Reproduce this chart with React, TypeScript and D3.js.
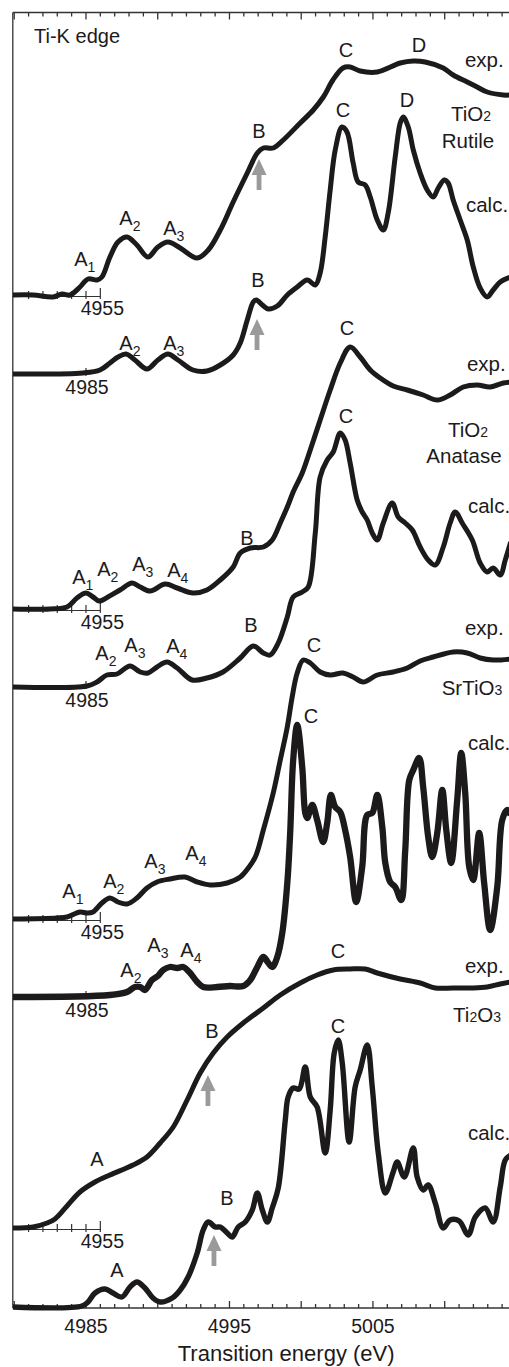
import React, { useRef, useEffect } from 'react';
import * as d3 from 'd3';

const W = 509;
const H = 1367;

// spectra: [energy (eV), intensity above own baseline (arb. u.)]
const rutileExp: [number, number][] = [
  [4979.91, 0], [4981.31, 0], [4982.7, -0.02], [4983.33, 0.01], [4983.89, 0], [4984.58, 0.08],
  [4985.14, 0.16], [4985.77, 0.15], [4986.11, 0.18], [4986.67, 0.38], [4987.23, 0.53], [4987.86, 0.58],
  [4988.55, 0.5], [4989.32, 0.38], [4990.01, 0.48], [4990.71, 0.53], [4991.57, 0.47], [4992.75, 0.37],
  [4993.52, 0.45], [4994.36, 0.65], [4995.26, 0.93], [4996.24, 1.22], [4996.94, 1.42], [4997.36, 1.47],
  [4998.05, 1.47], [4998.75, 1.55], [4999.93, 1.72], [5000.84, 1.85], [5001.54, 1.98], [5002.21, 2.15],
  [5002.91, 2.27], [5003.41, 2.28], [5004.11, 2.24], [5005.3, 2.23], [5006.9, 2.32], [5007.81, 2.34],
  [5008.64, 2.33], [5009.9, 2.27], [5010.59, 2.2], [5011.57, 2.13], [5012.26, 2.08], [5012.96, 2.03],
  [5014.08, 2.0], [5014.6, 2.0],
];
const rutileCalc: [number, number][] = [
  [4979.91, 0], [4984.79, 0.01], [4985.98, 0.04], [4986.67, 0.11], [4987.23, 0.17], [4987.79, 0.2],
  [4988.41, 0.14], [4989.25, 0.05], [4990.01, 0.14], [4990.71, 0.2], [4991.41, 0.14], [4992.46, 0.04],
  [4993.43, 0.03], [4994.36, 0.09], [4995.26, 0.19], [4995.75, 0.31], [4996.24, 0.54], [4996.66, 0.72],
  [4996.87, 0.74], [4997.29, 0.69], [4997.71, 0.65], [4998.33, 0.68], [4999.03, 0.79], [4999.72, 0.87],
  [5000.42, 0.94], [5000.98, 0.89], [5001.32, 1.01], [5001.67, 1.37], [5002.02, 1.84], [5002.37, 2.24],
  [5002.84, 2.47], [5003.19, 2.42], [5003.62, 2.11], [5003.97, 1.92], [5004.46, 1.89], [5004.81, 1.77],
  [5005.3, 1.54], [5005.72, 1.44], [5006.06, 1.61], [5006.55, 2.17], [5006.9, 2.51], [5007.11, 2.57],
  [5007.46, 2.47], [5007.81, 2.24], [5008.29, 2.01], [5008.78, 1.84], [5009.2, 1.77], [5009.55, 1.86],
  [5009.97, 1.94], [5010.24, 1.91], [5010.59, 1.74], [5011.08, 1.54], [5011.57, 1.34], [5011.99, 1.07],
  [5012.47, 0.86], [5012.96, 0.77], [5013.38, 0.84], [5013.87, 0.92], [5014.6, 0.97],
];
const anataseExp: [number, number][] = [
  [4979.91, 0], [4982.49, 0], [4983.68, 0.02], [4984.37, 0.11], [4985.0, 0.16], [4985.49, 0.12],
  [4985.91, 0.08], [4986.53, 0.12], [4987.37, 0.19], [4988.21, 0.26], [4988.78, 0.22], [4989.48, 0.18],
  [4990.52, 0.25], [4991.36, 0.21], [4992.47, 0.16], [4993.43, 0.19], [4994.36, 0.29], [4995.26, 0.42],
  [4995.75, 0.56], [4996.45, 0.61], [4997.36, 0.62], [4997.98, 0.69], [4998.54, 0.86], [4999.03, 1.02],
  [4999.44, 1.17], [5000.07, 1.36], [5000.63, 1.59], [5001.32, 1.89], [5002.02, 2.19], [5002.72, 2.46],
  [5003.41, 2.62], [5004.11, 2.52], [5004.81, 2.39], [5005.5, 2.31], [5006.41, 2.23], [5007.39, 2.19],
  [5008.5, 2.14], [5009.48, 2.09], [5010.38, 2.14], [5011.29, 2.22], [5012.26, 2.24], [5013.17, 2.22],
  [5014.08, 2.26], [5014.6, 2.27],
];
const anataseCalc: [number, number][] = [
  [4979.91, 0], [4985.07, 0.01], [4985.77, 0.05], [4986.46, 0.12], [4987.16, 0.13], [4988.07, 0.21],
  [4988.78, 0.15], [4989.32, 0.14], [4989.95, 0.2], [4990.65, 0.25], [4991.36, 0.19], [4992.4, 0.07],
  [4993.43, 0.09], [4994.55, 0.15], [4995.75, 0.29], [4996.66, 0.41], [4997.36, 0.34], [4997.84, 0.32],
  [4998.4, 0.44], [4999.03, 0.7], [4999.44, 0.9], [5000.07, 0.95], [5000.49, 1.0], [5000.98, 1.54],
  [5001.32, 2.1], [5001.81, 2.27], [5002.23, 2.35], [5002.72, 2.54], [5003.06, 2.47], [5003.41, 2.24],
  [5003.9, 1.87], [5004.25, 1.75], [5004.6, 1.67], [5004.95, 1.54], [5005.3, 1.47], [5005.72, 1.64],
  [5006.34, 1.84], [5006.76, 1.7], [5007.25, 1.64], [5007.74, 1.57], [5008.29, 1.4], [5008.85, 1.27],
  [5009.34, 1.22], [5009.9, 1.4], [5010.38, 1.64], [5010.73, 1.75], [5011.22, 1.64], [5011.92, 1.47],
  [5012.47, 1.24], [5012.96, 1.15], [5013.38, 1.19], [5013.87, 1.12], [5014.22, 1.27], [5014.6, 1.45],
];
const srtio3Exp: [number, number][] = [
  [4979.91, 0], [4982.98, 0.01], [4983.68, 0.02], [4984.58, 0.07], [4985.07, 0.06], [4985.49, 0.07],
  [4986.11, 0.16], [4986.67, 0.21], [4987.23, 0.17], [4987.86, 0.15], [4988.55, 0.21], [4989.25, 0.31],
  [4989.95, 0.37], [4990.85, 0.4], [4991.9, 0.42], [4992.75, 0.37], [4993.66, 0.34], [4994.84, 0.36],
  [4995.75, 0.42], [4996.31, 0.51], [4996.8, 0.62], [4997.36, 0.89], [4998.05, 1.26], [4998.54, 1.59],
  [4999.03, 1.92], [4999.37, 2.22], [4999.72, 2.46], [5000.14, 2.59], [5000.63, 2.56], [5001.32, 2.47],
  [5002.02, 2.44], [5002.91, 2.46], [5003.62, 2.42], [5004.32, 2.37], [5005.3, 2.44], [5006.41, 2.47],
  [5007.39, 2.51], [5008.29, 2.58], [5009.2, 2.62], [5010.59, 2.67], [5011.57, 2.66], [5012.47, 2.61],
  [5013.38, 2.59], [5014.6, 2.6],
];
const srtio3Calc: [number, number][] = [
  [4979.91, 0], [4986.67, 0.02], [4987.86, 0.05], [4988.41, 0.1], [4988.78, 0.1], [4989.11, 0.07],
  [4989.6, 0.17], [4990.01, 0.21], [4990.38, 0.27], [4990.85, 0.3], [4991.36, 0.29], [4991.78, 0.3],
  [4992.26, 0.24], [4992.75, 0.15], [4993.17, 0.1], [4994.15, 0.1], [4995.03, 0.11], [4995.96, 0.11],
  [4996.45, 0.17], [4996.94, 0.3], [4997.36, 0.4], [4997.71, 0.34], [4997.98, 0.3], [4998.33, 0.4],
  [4998.68, 0.64], [4999.03, 1.14], [4999.23, 1.64], [4999.44, 2.37], [4999.72, 2.72], [5000.07, 2.3],
  [5000.28, 1.84], [5000.42, 1.79], [5000.77, 1.92], [5001.11, 1.77], [5001.53, 1.55], [5001.81, 1.74],
  [5002.07, 2.02], [5002.37, 1.9], [5002.72, 1.85], [5003.06, 1.67], [5003.41, 1.4], [5003.83, 0.95],
  [5004.25, 1.3], [5004.6, 1.82], [5004.95, 1.84], [5005.3, 2.02], [5005.65, 1.7], [5005.86, 1.34],
  [5006.2, 1.15], [5006.55, 1.1], [5006.97, 0.97], [5007.25, 1.47], [5007.53, 2.17], [5007.81, 2.27],
  [5008.22, 2.39], [5008.5, 2.1], [5008.85, 1.6], [5009.13, 1.4], [5009.48, 1.64], [5009.83, 2.07],
  [5010.11, 1.67], [5010.45, 1.34], [5010.87, 1.97], [5011.15, 2.44], [5011.43, 2.04], [5011.71, 1.3],
  [5011.99, 1.17], [5012.4, 1.64], [5012.75, 1.14], [5013.17, 0.67], [5013.66, 1.1], [5014.01, 1.77],
  [5014.36, 1.87], [5014.6, 1.82],
];
const ti2o3Exp: [number, number][] = [
  [4979.91, 0], [4981.31, 0.01], [4982.29, 0.05], [4982.84, 0.09], [4983.68, 0.22], [4984.58, 0.36],
  [4985.63, 0.46], [4986.67, 0.53], [4988.28, 0.63], [4989.25, 0.71], [4990.17, 0.85], [4991.08, 1.01],
  [4992.05, 1.28], [4992.96, 1.55], [4993.87, 1.75], [4994.84, 1.91], [4995.96, 2.05], [4997.36, 2.2],
  [4998.54, 2.33], [4999.93, 2.45], [5001.11, 2.53], [5002.23, 2.58], [5003.41, 2.59], [5004.46, 2.59],
  [5005.3, 2.55], [5006.9, 2.49], [5008.29, 2.45], [5009.34, 2.4], [5010.59, 2.4], [5011.92, 2.4],
  [5012.96, 2.41], [5013.87, 2.44], [5014.6, 2.46],
];
const ti2o3Calc: [number, number][] = [
  [4979.91, 0], [4984.72, 0.01], [4985.14, 0.05], [4985.63, 0.14], [4986.32, 0.18], [4986.88, 0.14],
  [4987.51, 0.1], [4988.07, 0.2], [4988.55, 0.25], [4989.11, 0.19], [4989.67, 0.09], [4990.17, 0.05],
  [4991.01, 0.09], [4991.57, 0.17], [4992.12, 0.3], [4992.75, 0.54], [4993.17, 0.77], [4993.52, 0.85],
  [4994.01, 0.8], [4994.36, 0.8], [4994.84, 0.74], [4995.19, 0.7], [4995.61, 0.8], [4996.1, 0.85],
  [4996.59, 0.97], [4996.94, 1.14], [4997.29, 0.97], [4997.64, 0.85], [4997.98, 0.99], [4998.4, 1.19],
  [4998.89, 1.87], [4999.09, 2.1], [4999.44, 2.19], [4999.86, 2.18], [5000.28, 2.4], [5000.63, 2.1],
  [5001.11, 2.0], [5001.67, 1.54], [5002.02, 1.97], [5002.3, 2.54], [5002.58, 2.67], [5002.86, 2.44],
  [5003.34, 1.65], [5003.76, 2.2], [5004.11, 2.37], [5004.6, 2.62], [5004.95, 2.2], [5005.37, 1.54],
  [5005.86, 1.14], [5006.41, 1.35], [5006.69, 1.45], [5007.18, 1.3], [5007.81, 1.59], [5008.08, 1.3],
  [5008.5, 1.17], [5008.85, 1.22], [5009.34, 1.04], [5009.9, 0.79], [5010.38, 0.87], [5011.01, 0.86],
  [5011.64, 0.72], [5012.13, 0.9], [5012.82, 0.99], [5013.38, 0.85], [5013.87, 1.2], [5014.22, 1.47],
  [5014.6, 1.52],
];

// vertical offsets of each spectrum (same order as spectra below)
const spectra = [rutileExp, rutileCalc, anataseExp, anataseCalc, srtio3Exp, srtio3Calc, ti2o3Exp, ti2o3Calc];
const stackOffsets = [10.13, 9.34, 6.99, 6.21, 3.89, 3.11, 0.8, 0.01];

const axisTicks = d3.range(4980, 5018);
const axisLabels = [4985, 4995, 5005];
const expAxisTicks = [4950, 4951, 4952, 4953, 4954, 4955];
const expShift = 31; // exp. energy scale drawn shifted

// peak letters: [letter, subscript, energy, level]
const peakLabels: [string, string, number, number][] = [
  ['A', '1', 4984.65, 10.42], ['A', '2', 4987.79, 10.83], ['A', '3', 4990.85, 10.73],
  ['B', '', 4997.06, 11.7], ['C', '', 5003.12, 12.51], ['D', '', 5008.21, 12.56],
  ['A', '2', 4987.79, 9.58], ['A', '3', 4990.85, 9.58], ['B', '', 4996.99, 10.21],
  ['C', '', 5002.91, 11.91], ['D', '', 5007.37, 12.01],
  ['A', '1', 4984.51, 7.24], ['A', '2', 4986.25, 7.32], ['A', '3', 4988.69, 7.37], ['A', '4', 4991.13, 7.31],
  ['B', '', 4996.22, 7.63], ['C', '', 5003.19, 9.73],
  ['A', '2', 4986.12, 6.48], ['A', '3', 4988.14, 6.56], ['A', '4', 4991.06, 6.55],
  ['B', '', 4996.5, 6.76], ['C', '', 5003.12, 8.85],
  ['A', '1', 4983.82, 4.1], ['A', '2', 4986.67, 4.2], ['A', '3', 4989.53, 4.4], ['A', '4', 4992.39, 4.48],
  ['C', '', 5000.89, 6.56],
  ['A', '2', 4987.86, 3.31], ['A', '3', 4989.74, 3.56], ['A', '4', 4992.04, 3.51], ['C', '', 5000.68, 5.85],
  ['A', '', 4985.77, 1.42], ['B', '', 4993.78, 2.7], ['C', '', 5002.56, 3.5],
  ['A', '', 4987.16, 0.31], ['B', '', 4994.83, 1.03], ['C', '', 5002.56, 2.75],
];
const kindLabels: [string, number, number][] = [
  ['exp.', 5011.41, 12.41], ['calc.', 5011.48, 10.96],
  ['exp.', 5011.55, 9.37], ['calc.', 5011.62, 7.95],
  ['exp.', 5011.41, 6.73], ['calc.', 5011.62, 5.58],
  ['exp.', 5011.41, 3.35], ['calc.', 5011.62, 1.68],
];
// compound names: [text, index digit, energy, level]
const compoundLabels: [string, string, number, number][] = [
  ['TiO', '2', 5011.83, 11.87], ['Rutile', '', 5011.62, 11.6],
  ['TiO', '2', 5011.62, 8.71], ['Anatase', '', 5011.34, 8.45],
  ['SrTiO', '3', 5011.9, 6.13], ['Ti', '2O3', 5012.25, 2.86],
];
// grey arrows (tip): [energy, level]
const arrows: [number, number][] = [
  [4997.06, 11.49], [4996.92, 9.89], [4993.5, 2.33], [4993.92, 0.73],
];

const FONT = '"Liberation Sans", Arial, Helvetica, sans-serif';

function XasChart() {
  const ref = useRef<SVGSVGElement>(null);

  useEffect(() => {
    const svg = d3.select(ref.current);
    svg.selectAll('*').remove();

    const x = d3.scaleLinear().domain([4979.9, 5018]).range([12.8, 559.5]);
    const y = d3.scaleLinear().domain([0, 12.955]).range([1308, 12.5]);
    const x0 = x.range()[0];
    const yTop = y.range()[1];
    const yBot = y.range()[0];
    const ink = '#1c1a1b';

    const g = svg.append('g').attr('font-family', FONT).attr('fill', ink);

    // frame
    const frame = g.append('g').attr('stroke', '#333').attr('stroke-width', 1.3);
    frame.append('line').attr('x1', x0).attr('x2', x0).attr('y1', yTop).attr('y2', yBot);
    frame.append('line').attr('x1', x0).attr('x2', W + 5).attr('y1', yTop).attr('y2', yTop);
    frame.append('line').attr('x1', x0).attr('x2', W + 5).attr('y1', yBot).attr('y2', yBot);
    axisTicks.forEach((e) => {
      const len = e % 5 === 0 ? 7 : 4;
      frame.append('line').attr('x1', x(e)).attr('x2', x(e)).attr('y1', yBot).attr('y2', yBot - len);
      frame.append('line').attr('x1', x(e)).attr('x2', x(e)).attr('y1', yTop).attr('y2', yTop + len);
    });
    axisLabels.forEach((e) => {
      g.append('text').attr('x', x(e)).attr('y', yBot + 25).attr('text-anchor', 'middle')
        .attr('font-size', 19.5).text(e);
    });
    g.append('text').attr('x', (x.range()[0] + x.range()[1]) / 2).attr('y', 1361)
      .attr('text-anchor', 'middle').attr('font-size', 22).text('Transition energy (eV)');

    // small energy scales under each pair
    spectra.forEach((_, i) => {
      const base = y(stackOffsets[i]);
      if (i % 2 === 0) {
        const ax = g.append('g').attr('stroke', '#333').attr('stroke-width', 1.2);
        ax.append('line').attr('x1', x0).attr('x2', x(4955 + expShift)).attr('y1', base + 1.5).attr('y2', base + 1.5);
        expAxisTicks.forEach((t) => {
          const up = t === 4955 ? 7 : 4;
          ax.append('line').attr('x1', x(t + expShift)).attr('x2', x(t + expShift))
            .attr('y1', base + 4).attr('y2', base - up);
        });
        g.append('text').attr('x', x(4955 + expShift) + 2).attr('y', base + 20)
          .attr('text-anchor', 'middle').attr('font-size', 19.5).text('4955');
      } else if (i < spectra.length - 1) {
        g.append('line').attr('stroke', '#333').attr('stroke-width', 1.2)
          .attr('x1', x(4985)).attr('x2', x(4985)).attr('y1', base + 2).attr('y2', base - 6);
        g.append('text').attr('x', x(4985) + 1).attr('y', base + 20)
          .attr('text-anchor', 'middle').attr('font-size', 19.5).text('4985');
      }
    });

    // spectra
    const line = d3.line<[number, number]>()
      .x((d) => x(d[0]))
      .y((d) => y(d[1]))
      .curve(d3.curveCatmullRom.alpha(0.5));
    const widths = [5, 5, 5, 5, 5, 6.3, 5, 5.4];
    spectra.forEach((data, i) => {
      const off = stackOffsets[i];
      g.append('path')
        .datum(data.map((d) => [d[0], d[1] + off] as [number, number]))
        .attr('fill', 'none')
        .attr('stroke', ink)
        .attr('stroke-width', widths[i])
        .attr('stroke-linejoin', 'round')
        .attr('d', line);
    });

    // arrows
    arrows.forEach(([e, v]) => {
      const tx = x(e);
      const ty = y(v);
      const p = d3.path();
      p.moveTo(tx, ty);
      p.lineTo(tx + 7.5, ty + 16);
      p.lineTo(tx + 2.4, ty + 16);
      p.lineTo(tx + 2.4, ty + 31);
      p.lineTo(tx - 2.4, ty + 31);
      p.lineTo(tx - 2.4, ty + 16);
      p.lineTo(tx - 7.5, ty + 16);
      p.closePath();
      g.append('path').attr('d', p.toString()).attr('fill', '#9a9a9a');
    });

    // peak labels
    peakLabels.forEach(([letter, sub, e, v]) => {
      if (sub) {
        const t = g.append('text').attr('x', x(e) - 6.7).attr('y', y(v)).attr('font-size', 20);
        t.append('tspan').text(letter);
        t.append('tspan').attr('dy', 6).attr('font-size', 14).text(sub);
      } else {
        g.append('text').attr('x', x(e)).attr('y', y(v)).attr('text-anchor', 'middle')
          .attr('font-size', 20).text(letter);
      }
    });

    kindLabels.forEach(([txt, e, v]) => {
      g.append('text').attr('x', x(e)).attr('y', y(v)).attr('font-size', 20.5).text(txt);
    });

    compoundLabels.forEach(([txt, sub, e, v]) => {
      const t = g.append('text').attr('x', x(e)).attr('y', y(v)).attr('text-anchor', 'middle')
        .attr('font-size', 20.5);
      if (sub === '2O3') {
        t.append('tspan').text(txt);
        t.append('tspan').attr('font-size', 14).text('2');
        t.append('tspan').attr('font-size', 20.5).text('O');
        t.append('tspan').attr('font-size', 14).text('3');
      } else {
        t.append('tspan').text(txt);
        if (sub) t.append('tspan').attr('font-size', 14).text(sub);
      }
    });

    g.append('text').attr('x', x(4981.38)).attr('y', y(12.65)).attr('font-size', 20).text('Ti-K edge');
  }, []);

  return (
    <svg ref={ref} width={W} height={H}
      style={{ position: 'absolute', left: 0, top: 0, background: '#fff' }} />
  );
}

export default function App() {
  return <XasChart />;
}
